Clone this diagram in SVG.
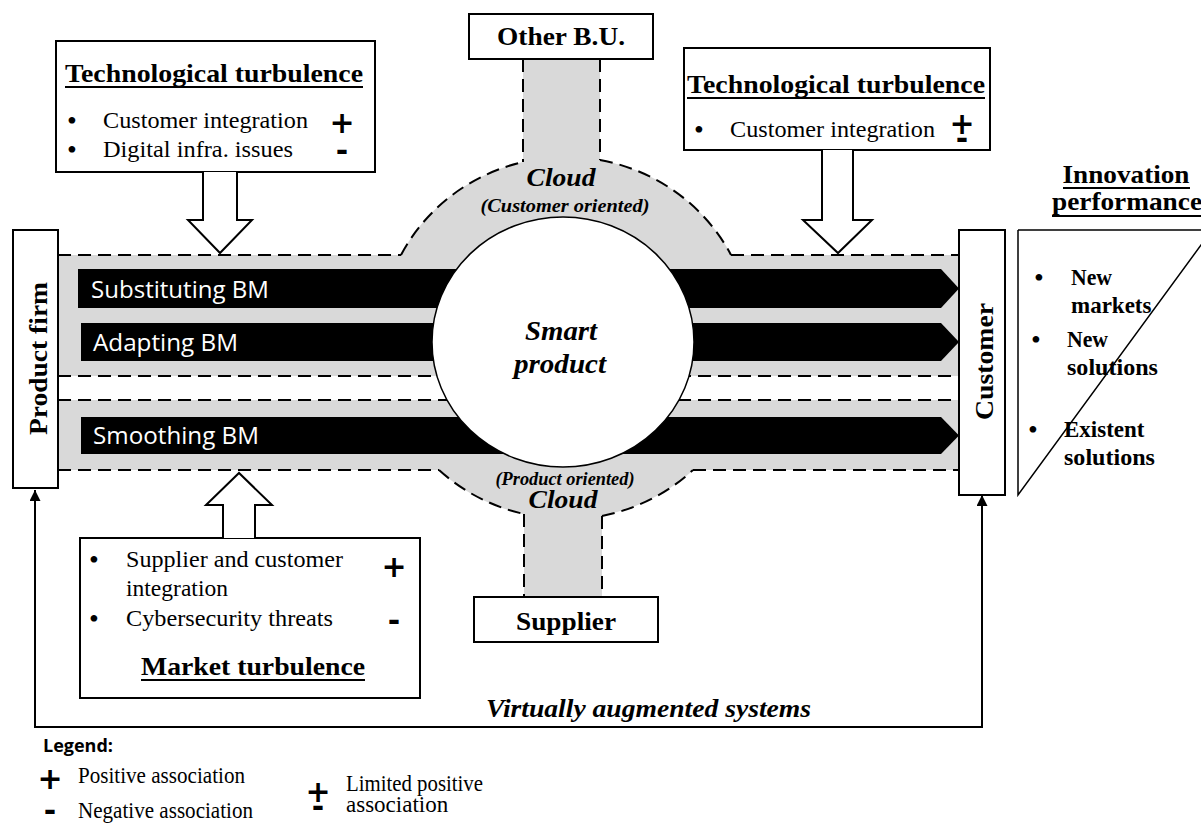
<svg xmlns="http://www.w3.org/2000/svg" width="1201" height="823" viewBox="0 0 1201 823">
<defs>
<style>
.box{fill:#fff;stroke:#000;stroke-width:2}
.grey{fill:#d9d9d9;stroke:none}
.dash{fill:none;stroke:#000;stroke-width:2;stroke-dasharray:13 7}
.bar{fill:#000}
.bt{font-family:"Open Sans","Liberation Sans",sans-serif;font-size:23px;fill:#fff}
.sb{font-family:"Liberation Serif","Times New Roman",serif;font-weight:bold;font-size:26px;fill:#000}
.sbi{font-family:"Liberation Serif","Times New Roman",serif;font-weight:bold;font-style:italic;fill:#000}
.sr{font-family:"Liberation Serif","Times New Roman",serif;font-size:23px;fill:#000}
.dot{font-family:"Liberation Serif","Times New Roman",serif;font-size:28px;fill:#000}
.ib{font-family:"Liberation Serif","Times New Roman",serif;font-weight:bold;font-size:23px;fill:#000}
.sym{font-family:"DejaVu Sans",sans-serif;font-weight:bold;font-size:30px;fill:#000;text-anchor:middle}
.ul{stroke:#000;stroke-width:2}
.conn{fill:none;stroke:#000;stroke-width:2}
.harrow{fill:#fff;stroke:#000;stroke-width:2;stroke-linejoin:miter}
</style>
<marker id="ah" viewBox="0 0 10 10" refX="10" refY="5" markerUnits="userSpaceOnUse" markerWidth="13" markerHeight="11" orient="auto-start-reverse">
<path d="M0,0 L10,5 L0,10 z" fill="#000"/>
</marker>
</defs>
<rect width="1201" height="823" fill="#fff"/>

<g id="channel">
<ellipse class="grey" cx="566" cy="338" rx="186" ry="181"/>
<rect class="grey" x="58" y="255" width="901" height="121"/>
<rect class="grey" x="58" y="400" width="901" height="70"/>
<rect class="grey" x="523" y="59" width="77" height="110"/>
<rect class="grey" x="524" y="505" width="78" height="92"/>
<rect x="58" y="376" width="901" height="24" fill="#fff"/>
<path class="dash" d="M58,255 H401 M731,255 H959 M58,376 H959 M58,400 H959 M58,470 H439 M693,470 H959"/>
<path class="dash" d="M401,255 A186 181 0 0 1 523,162 M600,160 A186 181 0 0 1 731,255"/>
<path class="dash" d="M439,470 A186 181 0 0 0 524,514 M602,516 A186 181 0 0 0 693,470"/>
<path class="dash" d="M523,59 V162 M600,59 V160 M524,514 V597 M602,516 V597"/>
</g>

<g id="bars">
<path class="bar" d="M78,269 H941 L959,288.5 L941,308 H78 z"/>
<path class="bar" d="M81,323 H941 L959,342 L941,361 H81 z"/>
<path class="bar" d="M81,417 H941 L959,435.5 L941,454 H81 z"/>
<text class="bt" x="91" y="298" textLength="178" lengthAdjust="spacingAndGlyphs">Substituting BM</text>
<text class="bt" x="93" y="351" textLength="145" lengthAdjust="spacingAndGlyphs">Adapting BM</text>
<text class="bt" x="93" y="444" textLength="166" lengthAdjust="spacingAndGlyphs">Smoothing BM</text>
</g>

<g id="smart-product">
<ellipse cx="563" cy="342" rx="131" ry="125" fill="#fff" stroke="#000" stroke-width="1.5"/>
<text class="sbi" x="561" y="340" font-size="27" text-anchor="middle" textLength="72" lengthAdjust="spacingAndGlyphs">Smart</text>
<text class="sbi" x="560" y="373" font-size="27" text-anchor="middle" textLength="92" lengthAdjust="spacingAndGlyphs">product</text>
</g>

<g id="cloud-labels">
<text class="sbi" x="561" y="186" font-size="26" text-anchor="middle" textLength="69" lengthAdjust="spacingAndGlyphs">Cloud</text>
<text class="sbi" x="565" y="212" font-size="19" text-anchor="middle" textLength="169" lengthAdjust="spacingAndGlyphs">(Customer oriented)</text>
<text class="sbi" x="565" y="485" font-size="18" text-anchor="middle" textLength="139" lengthAdjust="spacingAndGlyphs">(Product oriented)</text>
<text class="sbi" x="563" y="508" font-size="26" text-anchor="middle" textLength="69" lengthAdjust="spacingAndGlyphs">Cloud</text>
</g>

<g id="other-bu">
<rect class="box" x="469" y="14" width="184" height="45"/>
<text class="sb" x="561" y="45" text-anchor="middle" textLength="128" lengthAdjust="spacingAndGlyphs">Other B.U.</text>
</g>

<g id="supplier">
<rect class="box" x="474" y="597" width="184" height="45"/>
<text class="sb" x="566" y="630" text-anchor="middle" textLength="100" lengthAdjust="spacingAndGlyphs">Supplier</text>
</g>

<g id="product-firm">
<rect class="box" x="13" y="230" width="45" height="258"/>
<text class="sb" transform="translate(47,358.5) rotate(-90)" text-anchor="middle" textLength="153" lengthAdjust="spacingAndGlyphs">Product firm</text>
</g>

<g id="customer">
<rect class="box" x="959" y="230" width="46" height="265"/>
<text class="sb" transform="translate(993,361.5) rotate(-90)" text-anchor="middle" textLength="117" lengthAdjust="spacingAndGlyphs">Customer</text>
</g>

<g id="tech-turbulence-left">
<rect class="box" x="56" y="41" width="319" height="131"/>
<text class="sb" x="65" y="82" textLength="298" lengthAdjust="spacingAndGlyphs">Technological turbulence</text>
<line class="ul" x1="65" y1="87" x2="363" y2="87"/>
<text class="dot" x="67" y="130">•</text>
<text class="sr" x="103" y="128" textLength="205" lengthAdjust="spacingAndGlyphs">Customer integration</text>
<text class="sym" x="342" y="133">+<tspan x="342" dy="28">-</tspan></text>
<text class="dot" x="67" y="159">•</text>
<text class="sr" x="103" y="157" textLength="190" lengthAdjust="spacingAndGlyphs">Digital infra. issues</text>
</g>

<g id="tech-turbulence-right">
<rect class="box" x="684" y="48" width="306" height="102"/>
<text class="sb" x="687" y="93" textLength="298" lengthAdjust="spacingAndGlyphs">Technological turbulence</text>
<line class="ul" x1="687" y1="98" x2="985" y2="98"/>
<text class="dot" x="694" y="139">•</text>
<text class="sr" x="730" y="137" textLength="205" lengthAdjust="spacingAndGlyphs">Customer integration</text>
<text class="sym" x="962" y="134">+<tspan x="962" dy="15">-</tspan></text>
</g>

<g id="market-turbulence">
<rect class="box" x="80" y="538" width="340" height="160"/>
<text class="dot" x="89" y="569">•</text>
<text class="sr" x="126" y="567" textLength="217" lengthAdjust="spacingAndGlyphs">Supplier and customer</text>
<text class="sr" x="126" y="596" textLength="102" lengthAdjust="spacingAndGlyphs">integration</text>
<text class="sym" x="394" y="577">+</text>
<text class="dot" x="89" y="628">•</text>
<text class="sr" x="126" y="626" textLength="207" lengthAdjust="spacingAndGlyphs">Cybersecurity threats</text>
<text class="sym" x="394" y="631">-</text>
<text class="sb" x="253" y="675" text-anchor="middle" textLength="224" lengthAdjust="spacingAndGlyphs">Market turbulence</text>
<line class="ul" x1="141" y1="680" x2="365" y2="680"/>
</g>

<g id="innovation-performance">
<text class="sb" x="1126" y="183" text-anchor="middle" textLength="127" lengthAdjust="spacingAndGlyphs">Innovation</text>
<line class="ul" x1="1063" y1="188" x2="1190" y2="188"/>
<text class="sb" x="1052" y="210" textLength="150" lengthAdjust="spacingAndGlyphs">performance</text>
<line class="ul" x1="1052" y1="216" x2="1201" y2="216"/>
<path d="M1018,230 H1212 M1018,230 V495 L1212,230" fill="none" stroke="#000" stroke-width="1.5"/>
<text class="dot" x="1034" y="287">•</text>
<text class="ib" x="1071" y="285" textLength="41" lengthAdjust="spacingAndGlyphs">New</text>
<text class="ib" x="1071" y="313">markets</text>
<text class="dot" x="1031" y="349">•</text>
<text class="ib" x="1067" y="347" textLength="41" lengthAdjust="spacingAndGlyphs">New</text>
<text class="ib" x="1067" y="375" textLength="91" lengthAdjust="spacingAndGlyphs">solutions</text>
<text class="dot" x="1028" y="439">•</text>
<text class="ib" x="1064" y="437">Existent</text>
<text class="ib" x="1064" y="465" textLength="91" lengthAdjust="spacingAndGlyphs">solutions</text>
</g>

<g id="connectors">
<path class="harrow" d="M203,172 V220 H188 L220,253 L252,220 H237 V172"/>
<path class="harrow" d="M822,150 V220 H803 L838,253 L872,220 H853 V150"/>
<path class="harrow" d="M223,538 V505 H206 L239,473 L272,505 H255 V538"/>
<path class="conn" d="M35,490 V727 H982 V495" marker-start="url(#ah)" marker-end="url(#ah)"/>
<text class="sbi" x="486" y="717" font-size="26" textLength="325" lengthAdjust="spacingAndGlyphs">Virtually augmented systems</text>
</g>

<g id="legend">
<text x="43" y="752" font-family="'Open Sans','Liberation Sans',sans-serif" font-weight="bold" font-size="18">Legend:</text>
<text class="sym" x="50" y="789">+</text>
<text class="sr" x="78" y="783" font-size="20" textLength="167" lengthAdjust="spacingAndGlyphs">Positive association</text>
<text class="sym" x="50" y="821">-</text>
<text class="sr" x="78" y="818" font-size="20" textLength="175" lengthAdjust="spacingAndGlyphs">Negative association</text>
<text class="sym" x="318" y="802">+<tspan x="318" dy="15">-</tspan></text>
<text class="sr" x="346" y="791" font-size="20" textLength="137" lengthAdjust="spacingAndGlyphs">Limited positive</text>
<text class="sr" x="346" y="812" font-size="20">association</text>
</g>
</svg>
